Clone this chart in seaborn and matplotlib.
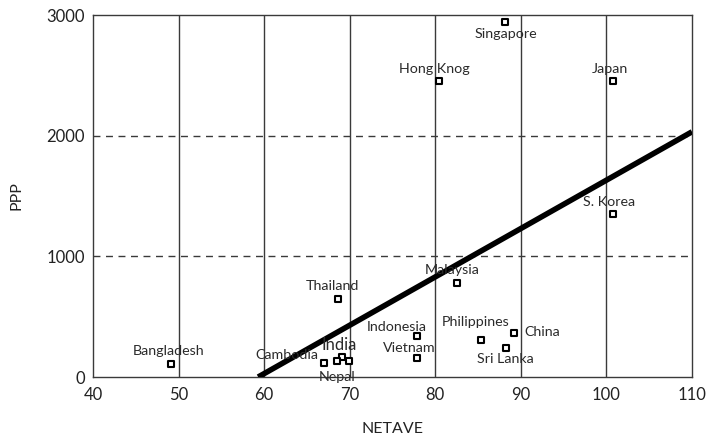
import matplotlib
matplotlib.use("Agg")
import matplotlib.pyplot as plt
import seaborn as sns
import pandas as pd

countries = ["Singapore", "Hong Knog", "Japan", "S. Korea", "Malaysia", "Thailand",
             "Indonesia", "Vietnam", "Philippines", "China", "Sri Lanka", "Bangladesh",
             "Cambodia", "India", "Nepal", "India2"]
netave = [88.2, 80.4, 100.75, 100.75, 82.5, 68.6, 77.9, 77.9, 85.4, 89.2, 88.3, 49.1,
          66.95, 69.1, 68.5, 69.9]
ppp = [2941, 2452, 2452, 1350, 776, 646, 340, 155, 306, 365, 243, 108, 113, 166, 133, 133]

fit_x = [59.3, 110]
fit_y = [0, 2032]

x_ticks = [40, 50, 60, 70, 80, 90, 100, 110]
y_ticks = [0, 1000, 2000, 3000]

df = pd.DataFrame({"country": countries, "NETAVE": netave, "PPP": ppp})
fit = pd.DataFrame({"NETAVE": fit_x, "PPP": fit_y})

sns.set_style("white")
plt.rcParams["font.family"] = ["Lato", "DejaVu Sans"]

fig = plt.figure(figsize=(7.09, 4.42), dpi=100)
ax = fig.add_axes([93 / 709, 1 - 377 / 442, (692 - 93) / 709, (377 - 15) / 442])

gc = "#3a3a3a"
for xv in x_ticks[1:-1]:
    ax.axvline(xv, color=gc, lw=1.0, zorder=1)
for yv in [1000, 2000]:
    ax.axhline(yv, color=gc, lw=1.0, ls=(0, (5, 4)), zorder=1)

sns.lineplot(data=fit, x="NETAVE", y="PPP", ax=ax, color="black", lw=4.0,
             solid_capstyle="butt", zorder=3)
sns.scatterplot(data=df, x="NETAVE", y="PPP", ax=ax, marker="s", s=20,
                facecolor="white", edgecolor="black", linewidth=1.5, zorder=4)

# label offsets in pixels (dx, dy, ha)
offsets = {
    "Singapore": (0, -12, "center"),
    "Hong Knog": (-4, 12, "center"),
    "Japan": (-3, 12, "center"),
    "S. Korea": (-4, 12, "center"),
    "Malaysia": (-4, 13, "center"),
    "Thailand": (-5, 13, "center"),
    "Indonesia": (-21, 9, "center"),
    "Vietnam": (-8, 10, "center"),
    "Philippines": (-6, 18, "center"),
    "China": (10, 1, "left"),
    "Sri Lanka": (-1, -11, "center"),
    "Bangladesh": (-2, 13, "center"),
    "Cambodia": (-37, 8, "center"),
    "India": (-3, 12, "center"),
    "Nepal": (0, -16, "center"),
}
for c, xv, yv in zip(countries, netave, ppp):
    if c not in offsets:
        continue
    dx, dy, ha = offsets[c]
    fs = 12 if c == "India" else 10.3
    ax.annotate(c, (xv, yv), xytext=(dx, dy), textcoords="offset pixels",
                ha=ha, va="center", fontsize=fs, color="#2a2a2a", zorder=5)

ax.set_xlim(40, 110)
ax.set_ylim(0, 3000)
ax.set_xticks(x_ticks)
ax.set_yticks(y_ticks)
ax.tick_params(axis="both", direction="out", length=4, width=1, color=gc,
               labelsize=12, labelcolor="#222222", pad=2)
ax.tick_params(axis="x", pad=3)
for s in ax.spines.values():
    s.set_color(gc)
    s.set_linewidth(1.0)
ax.set_xlabel("NETAVE", fontsize=11.5, color="#222222", labelpad=14)
ax.set_ylabel("PPP", fontsize=11.5, color="#222222", labelpad=16)

fig.savefig("out.png", dpi=100)
